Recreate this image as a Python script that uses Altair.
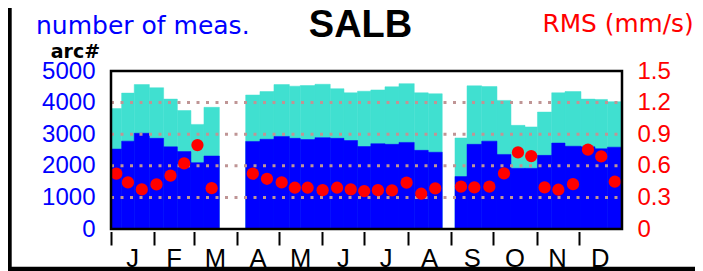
import altair as alt
import pandas as pd

# ---- data (day-of-year intervals, counts, RMS) ----
bin_start = [0.0, 7.6, 16.6, 27.4, 37.6, 47.4, 57.1, 66.4,
             96.2, 106.4, 116.4, 127.4, 135.2, 145.7, 156.6, 166.4, 176.1, 185.6, 195.7, 205.7, 216.6, 226.6,
             245.7, 254.3, 264.8, 275.7, 285.7, 295.7, 304.6, 314.8, 324.3, 335.7, 345.7, 354.6]
bin_end = [7.6, 16.6, 27.4, 37.6, 47.4, 57.1, 66.4, 77.4,
           106.4, 116.4, 127.4, 135.2, 145.7, 156.6, 166.4, 176.1, 185.6, 195.7, 205.7, 216.6, 226.6, 236.6,
           254.3, 264.8, 275.7, 285.7, 295.7, 304.6, 314.8, 324.3, 335.7, 345.7, 354.6, 365.0]
n_total = [3810, 4300, 4570, 4470, 4110, 3750, 3310, 3850,
           4240, 4350, 4570, 4520, 4540, 4580, 4440, 4310, 4360, 4400, 4500, 4600, 4310, 4280,
           2880, 4530, 4510, 4070, 3280, 3230, 3700, 4310, 4350, 4110, 4100, 4030]
n_arc = [2530, 2780, 3030, 2870, 2600, 2450, 2100, 2310,
         2770, 2840, 2930, 2870, 2830, 2890, 2870, 2800, 2610, 2700, 2680, 2740, 2490, 2430,
         1660, 2680, 2780, 2360, 1920, 1920, 2330, 2720, 2620, 2600, 2540, 2590]
rms = [0.525, 0.442, 0.376, 0.423, 0.506, 0.623, 0.797, 0.388,
       0.525, 0.477, 0.442, 0.392, 0.392, 0.369, 0.392, 0.376, 0.360, 0.369, 0.366, 0.440, 0.335, 0.385,
       0.402, 0.395, 0.402, 0.528, 0.727, 0.692, 0.395, 0.373, 0.426, 0.753, 0.689, 0.449]

month_start = [0, 31, 59, 90, 120, 151, 181, 212, 243, 273, 304, 334]
month_mid = [15.5, 45, 74.5, 105, 135.5, 166, 196.5, 227.5, 258, 288.5, 319, 349.5]
month_names = ['J', 'F', 'M', 'A', 'M', 'J', 'J', 'A', 'S', 'O', 'N', 'D']

left_ticks = [0, 1000, 2000, 3000, 4000, 5000]
grid_vals = [1000, 2000, 3000, 4000]
right_ticks = [0, 0.3, 0.6, 0.9, 1.2, 1.5]

W, H = 511, 158
BLUE = '#0000FF'
TURQ = '#40E0D0'
RED = '#FF0000'
GRID = '#bf9595'

df = pd.DataFrame({'start': bin_start, 'end': bin_end, 'total': n_total,
                   'arc': n_arc, 'rms': rms})
df['mid'] = [(a + b) / 2 for a, b in zip(bin_start, bin_end)]
months = pd.DataFrame({'mid': month_mid, 'name': month_names})
grid_df = pd.DataFrame({'g': grid_vals})
one = pd.DataFrame({'k': [0]})

xscale = alt.Scale(domain=[0, 365], nice=False, zero=False)
xaxis = alt.Axis(values=month_start, labels=False, ticks=True, tickSize=13.5, tickWidth=2,
                 tickColor='black', domain=False, grid=False, offset=2.5, title=None)
yscale = alt.Scale(domain=[0, 5000], nice=False)
yaxis = alt.Axis(values=left_ticks, format='d', labelColor=BLUE, labelFont='Liberation Sans',
                 labelFontSize=24, ticks=False, tickSize=0, domain=False, grid=False,
                 labelPadding=16, title=None, orient='left', labelOverlap=False)
raxis = alt.Axis(values=right_ticks, labelExpr="datum.value == 0 ? '0' : format(datum.value, '.1f')",
                 labelColor=RED, labelFont='Liberation Sans', labelFontSize=24, ticks=False,
                 tickSize=0, domain=False, grid=False, labelPadding=15, title=None,
                 orient='right', labelOverlap=False)

base = alt.Chart(df)
turq = base.mark_rect(color=TURQ, stroke=TURQ, strokeWidth=0.5).encode(
    x=alt.X('start:Q', scale=xscale, axis=xaxis), x2='end:Q',
    y=alt.Y('total:Q', scale=yscale, axis=yaxis), y2=alt.datum(0))
blue = base.mark_rect(color=BLUE, stroke=BLUE, strokeWidth=0.5).encode(
    x=alt.X('start:Q', scale=xscale, axis=xaxis), x2='end:Q',
    y=alt.Y('arc:Q', scale=yscale, axis=yaxis), y2=alt.datum(0))
grid = alt.Chart(grid_df).mark_rule(color=GRID, strokeDash=[3, 6.5], strokeWidth=3).encode(
    y=alt.Y('g:Q', scale=yscale, axis=yaxis), x=alt.value(0), x2=alt.value(W))
left_layer = alt.layer(turq, blue, grid)

dots = base.mark_circle(color=RED, size=150, opacity=1).encode(
    x=alt.X('mid:Q', scale=xscale, axis=xaxis),
    y=alt.Y('rms:Q', scale=alt.Scale(domain=[0, 1.5], nice=False), axis=raxis))

main = alt.layer(left_layer, dots).resolve_scale(y='independent')

mlabels = alt.Chart(months).mark_text(font='Liberation Sans', fontSize=25.6, color='black',
                                      align='center', baseline='alphabetic').encode(
    x=alt.X('mid:Q', scale=xscale, axis=xaxis), y=alt.value(195.8), text='name:N')

def label(txt, x, y, **kw):
    return alt.Chart(pd.DataFrame({'t': [txt]})).mark_text(baseline='alphabetic', **kw).encode(
        text='t:N', x=alt.value(x), y=alt.value(y))

t1 = label('number of meas.', -75, -36.7, align='left', font='DejaVu Sans', fontSize=25, color=BLUE)
t2 = label('SALB', 249.5, -34.3, align='center', font='Liberation Sans', fontSize=38,
           fontWeight='bold', color='black')
t3 = label('RMS (mm/s)', 431.5, -39.3, align='left', font='DejaVu Sans', fontSize=24.8, color=RED)
t4 = label('arc#', -60.3, -13.5, align='left', font='DejaVu Sans', fontSize=19,
           fontWeight='bold', color='black')

frame = alt.Chart(one).mark_rect(fillOpacity=0, stroke='black', strokeWidth=2.5).encode(
    x=alt.value(0), x2=alt.value(W), y=alt.value(0), y2=alt.value(H))
border_left = alt.Chart(one).mark_rect(color='black').encode(
    x=alt.value(-103), x2=alt.value(-99.3), y=alt.value(-63), y2=alt.value(200))
border_bottom = alt.Chart(one).mark_rect(color='black').encode(
    x=alt.value(-103), x2=alt.value(584), y=alt.value(195.8), y2=alt.value(200))

chart = alt.layer(main, mlabels, t1, t2, t3, t4, frame, border_left, border_bottom).properties(
    width=W, height=H,
    padding={'left': 103, 'top': 63, 'right': 73, 'bottom': 42},
    autosize=alt.AutoSizeParams(type='none'),
    background='white'
).configure_view(strokeWidth=0)

chart.save('out.html', embed_options={'renderer': 'svg', 'actions': False})
